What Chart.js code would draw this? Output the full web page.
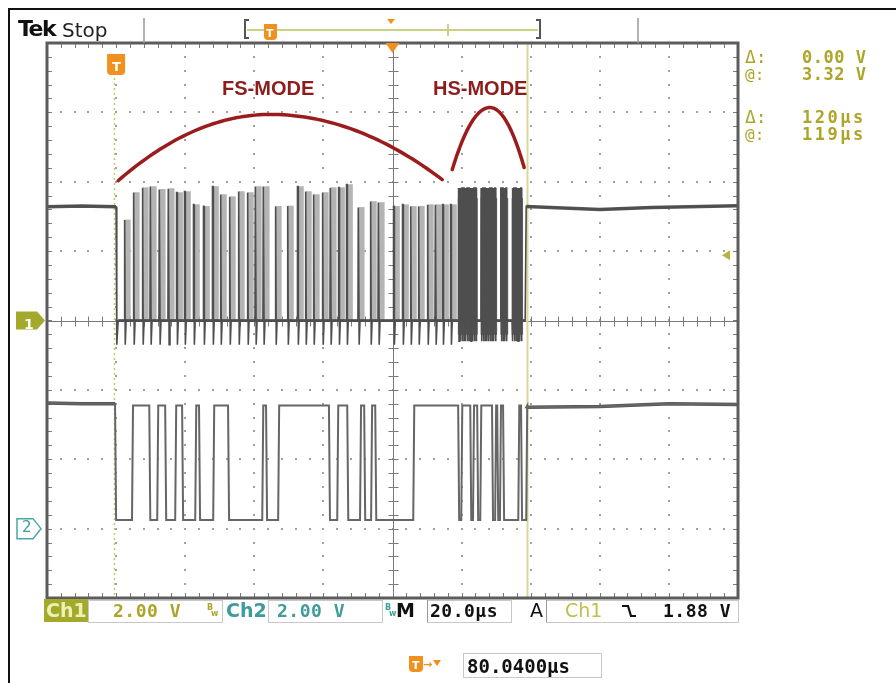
<!DOCTYPE html>
<html><head><meta charset="utf-8">
<script src="https://cdn.jsdelivr.net/npm/chart.js@4"></script>
<style>
html,body{margin:0;padding:0;background:#fff;}
#wrap{position:relative;width:896px;height:683px;overflow:hidden;background:#fff;}
#c{position:absolute;left:0;top:0;}
.t{position:absolute;white-space:nowrap;}
</style></head><body>
<div id="wrap"><canvas id="c" width="896" height="683"></canvas></div>
<script>
// ---- axes (µs relative to trigger, volts at 2 V/div) ----
const timeAxis = {min: -20, max: 180, div: 20};
const voltAxis = {min: -8, max: 8, div: 2};
const ch2Offset = -6;            // Ch2 ground is 3 div below centre
const cursorTimes = [-0.5, 119];  // vertical cursors (µs)
const trigLevel = 1.88;           // V

// ---- Ch1 ----
const ch1IdleBefore = [[-20, 3.28], [-10, 3.30], [0, 3.28]];
const ch1PulseTimes = [2.3,4.9,7.5,9.8,12.4,15.0,17.4,19.7,22.3,25.2,27.8,30.1,32.7,35.3,37.9,40.2,42.5,46.0,49.5,52.4,54.7,57.0,59.6,61.9,64.3,66.6,70.0,73.5,75.8,80.2,82.8,85.1,87.4,90.0,92.3,94.4,96.7];
const ch1PulsePeaks = [2.9,3.69,3.83,3.86,3.78,3.8,3.69,3.72,3.34,3.29,3.86,3.63,3.57,3.72,3.69,3.86,3.86,3.29,3.3,3.86,3.72,3.63,3.69,3.83,3.83,3.92,3.26,3.43,3.40,3.29,3.34,3.29,3.29,3.34,3.34,3.34,3.34];
const ch1HsTimes = [99.0,99.5,100.0,100.5,101.0,101.5,102.0,102.5,103.0,103.5,104.0,105.6,106.1,106.6,107.1,107.6,108.1,108.6,109.1,109.6,111.3,111.8,112.3,112.8,114.6,115.1,115.6,116.1,116.6,117.1];
const ch1HsPeak = 3.82;
const ch1IdleAfter = [[118.7, 3.29], [140, 3.2], [155, 3.26], [180, 3.31]];

// ---- Ch2 ----
const ch2IdleBefore = [[-20, 3.62], [-10, 3.6], [-0.3, 3.6]];
const ch2Edges = [-0.3,4.6,9.6,11.9,14.2,17.1,19.1,22.9,24.0,28.1,32.4,42.3,43.4,46.9,61.6,64.0,66.9,70.6,71.8,73.8,75.0,86.0,99.0,99.9,102.5,103.3,104.5,105.4,108.8,109.7,110.3,111.1,112.0,116.4,117.2,118.7];
const ch2High = 3.55, ch2Low = 0.25;
const ch2IdleAfter = [[118.7, 3.5], [140, 3.52], [160, 3.6], [180, 3.58]];

// ---- annotation arcs: [startT, startV, peakT, peakV, endT, endV] ----
const fsArc = [0.6, 4.03, 44.6, 5.94, 94.4, 4.06];
const hsArc = [97.3, 4.35, 108.2, 6.14, 118.1, 4.41];

// ---- build point lists ----
function buildCh1(){
  const p = [];
  ch1IdleBefore.forEach(a => p.push({x:a[0], y:a[1]}));
  p.push({x:0.2, y:-0.7}, {x:0.6, y:0});
  ch1PulseTimes.forEach((t,i) => {
    const pk = ch1PulsePeaks[i];
    p.push({x:t,y:0},{x:t+0.1,y:pk},{x:t+0.25,y:pk},{x:t+0.35,y:-0.7},{x:t+0.6,y:0});
  });
  ch1HsTimes.forEach(t => {
    p.push({x:t,y:0},{x:t+0.05,y:ch1HsPeak},{x:t+0.2,y:ch1HsPeak},{x:t+0.25,y:-0.6},{x:t+0.35,y:0});
  });
  p.push({x:118.4, y:0});
  ch1IdleAfter.forEach(a => p.push({x:a[0], y:a[1]}));
  return p;
}
function buildCh2(){
  const p = [];
  ch2IdleBefore.forEach(a => p.push({x:a[0], y:a[1]+ch2Offset}));
  let hi = true;
  ch2Edges.forEach(t => {
    const cur = hi ? ch2High : ch2Low;
    hi = !hi;
    const nxt = hi ? ch2High : ch2Low;
    p.push({x:t, y:cur+ch2Offset}, {x:t+0.3, y:nxt+ch2Offset});
  });
  ch2IdleAfter.forEach(a => p.push({x:a[0], y:a[1]+ch2Offset}));
  return p;
}
const toPts = (arr, off) => arr.map(a => ({x:a[0], y:a[1]+(off||0)}));

// ---- graticule / decorations plugin ----
const scope = {
  id: 'scope',
  beforeDatasetsDraw(chart){
    const {ctx, chartArea:a, scales:{x, y}} = chart;
    ctx.save();
    const cT = (timeAxis.min+timeAxis.max)/2, cV = 0;
    const stepT = timeAxis.div/5, stepV = voltAxis.div/5;
    ctx.fillStyle = '#a0a0a0';
    for (let t = timeAxis.min+timeAxis.div; t < timeAxis.max-1e-6; t += timeAxis.div){
      if (Math.abs(t-cT) < 1e-6) continue;
      const px = Math.round(x.getPixelForValue(t));
      for (let v = voltAxis.min+stepV; v < voltAxis.max-1e-6; v += stepV){
        ctx.fillRect(px-1, Math.round(y.getPixelForValue(v))-1, 2, 2);
      }
    }
    for (let v = voltAxis.min+voltAxis.div; v < voltAxis.max-1e-6; v += voltAxis.div){
      if (Math.abs(v-cV) < 1e-6) continue;
      const py = Math.round(y.getPixelForValue(v));
      for (let t = timeAxis.min+stepT; t < timeAxis.max-1e-6; t += stepT){
        ctx.fillRect(Math.round(x.getPixelForValue(t))-1, py-1, 2, 2);
      }
    }
    // centre lines with ticks
    ctx.strokeStyle = '#7a7a7a'; ctx.lineWidth = 1;
    const cx = Math.round(x.getPixelForValue(cT))+0.5, cy = Math.round(y.getPixelForValue(cV))+0.5;
    ctx.beginPath();
    ctx.moveTo(cx, a.top); ctx.lineTo(cx, a.bottom);
    ctx.moveTo(a.left, cy); ctx.lineTo(a.right, cy);
    for (let v = voltAxis.min+stepV; v < voltAxis.max; v += stepV){
      const py = Math.round(y.getPixelForValue(v))+0.5;
      ctx.moveTo(cx-5, py); ctx.lineTo(cx+5, py);
      ctx.moveTo(a.left, py); ctx.lineTo(a.left+5, py);
      ctx.moveTo(a.right, py); ctx.lineTo(a.right-5, py);
    }
    for (let t = timeAxis.min+stepT; t < timeAxis.max; t += stepT){
      const px = Math.round(x.getPixelForValue(t))+0.5;
      ctx.moveTo(px, cy-5); ctx.lineTo(px, cy+5);
      ctx.moveTo(px, a.top); ctx.lineTo(px, a.top+5);
      ctx.moveTo(px, a.bottom); ctx.lineTo(px, a.bottom-5);
    }
    ctx.stroke();
    // cursors
    const c1 = Math.round(x.getPixelForValue(cursorTimes[0]))+0.5;
    ctx.strokeStyle = '#c9c66a'; ctx.lineWidth = 1.5; ctx.setLineDash([2,3]);
    ctx.beginPath(); ctx.moveTo(c1, a.top+35); ctx.lineTo(c1, a.bottom); ctx.stroke();
    ctx.setLineDash([]);
    const c2 = Math.round(x.getPixelForValue(cursorTimes[1]))+0.5;
    ctx.strokeStyle = '#d9d89c'; ctx.lineWidth = 2;
    ctx.beginPath(); ctx.moveTo(c2, a.top); ctx.lineTo(c2, a.bottom); ctx.stroke();
    ctx.restore();
  },
  afterDatasetsDraw(chart){
    const {ctx, chartArea:a, scales:{x, y}} = chart;
    ctx.save();
    // frame
    ctx.strokeStyle = '#5c5c5c'; ctx.lineWidth = 3;
    ctx.strokeRect(a.left, a.top, a.right-a.left, a.bottom-a.top);
    // red annotation arcs
    const arc = (d) => {
      ctx.beginPath();
      for (let i = 0; i <= 40; i++){
        const u = i/40, t = d[0]+(d[2]-d[0])*u, v = d[1]+(d[3]-d[1])*(1-(1-u)*(1-u));
        const px = x.getPixelForValue(t), py = y.getPixelForValue(v);
        i ? ctx.lineTo(px,py) : ctx.moveTo(px,py);
      }
      for (let i = 1; i <= 40; i++){
        const u = i/40, t = d[2]+(d[4]-d[2])*u, v = d[3]-(d[3]-d[5])*u*u;
        ctx.lineTo(x.getPixelForValue(t), y.getPixelForValue(v));
      }
      ctx.stroke();
    };
    ctx.strokeStyle = '#9b1c1c'; ctx.lineWidth = 3.5; ctx.lineCap = 'round';
    arc(fsArc); arc(hsArc);
    ctx.lineCap = 'butt';
    const orange = '#f0901e';
    const tc = x.getPixelForValue((timeAxis.min+timeAxis.max)/2);
    ctx.fillStyle = orange;
    ctx.beginPath(); ctx.moveTo(tc-7, a.top); ctx.lineTo(tc+7, a.top); ctx.lineTo(tc, a.top+10); ctx.fill();
    const tx = x.getPixelForValue(0);
    roundBox(ctx, tx-9, a.top+11, 18, 21, orange);
    const ty = y.getPixelForValue(trigLevel);
    ctx.fillStyle = '#b7b33a';
    ctx.beginPath(); ctx.moveTo(a.right-16, ty); ctx.lineTo(a.right-8, ty-5); ctx.lineTo(a.right-8, ty+5); ctx.fill();
    const g1 = y.getPixelForValue(0), g2 = y.getPixelForValue(ch2Offset);
    ctx.fillStyle = '#a3a92b';
    ctx.beginPath();
    ctx.moveTo(16, g1-9); ctx.lineTo(37, g1-9); ctx.lineTo(45, g1); ctx.lineTo(37, g1+9); ctx.lineTo(16, g1+9); ctx.closePath(); ctx.fill();
    ctx.strokeStyle = '#4aa7a7'; ctx.lineWidth = 1.5; ctx.fillStyle = '#fff';
    ctx.beginPath();
    ctx.moveTo(17, g2-10); ctx.lineTo(33, g2-10); ctx.lineTo(41, g2); ctx.lineTo(33, g2+10); ctx.lineTo(17, g2+10); ctx.closePath(); ctx.fill(); ctx.stroke();
    ctx.strokeStyle = '#9a9a9a'; ctx.lineWidth = 1.5;
    ctx.beginPath(); ctx.moveTo(144, 18); ctx.lineTo(144, a.top); ctx.moveTo(638, 18); ctx.lineTo(638, a.top); ctx.stroke();
    ctx.strokeStyle = '#cdd082'; ctx.lineWidth = 2;
    ctx.beginPath(); ctx.moveTo(247, 30); ctx.lineTo(538, 30); ctx.moveTo(448, 24); ctx.lineTo(448, 36); ctx.stroke();
    ctx.strokeStyle = '#555'; ctx.lineWidth = 2;
    ctx.beginPath();
    ctx.moveTo(249, 20); ctx.lineTo(245, 20); ctx.lineTo(245, 38); ctx.lineTo(249, 38);
    ctx.moveTo(536, 20); ctx.lineTo(540, 20); ctx.lineTo(540, 38); ctx.lineTo(536, 38);
    ctx.stroke();
    roundBox(ctx, 264, 24, 13, 16, orange);
    ctx.fillStyle = orange;
    ctx.beginPath(); ctx.moveTo(387, 19); ctx.lineTo(395, 19); ctx.lineTo(391, 24); ctx.fill();
    ctx.fillStyle = '#111';
    ctx.fillRect(8, 8, 888, 2); ctx.fillRect(8, 8, 2, 675);
    ctx.fillStyle = '#a3a92b'; ctx.fillRect(44, 599, 44, 23);
    ctx.strokeStyle = '#c8c8c8'; ctx.lineWidth = 1;
    [[88,600,134,22],[268,600,114,22],[427,600,84,22],[546,600,192,22],[463,653,138,24]].forEach(r => ctx.strokeRect(r[0]+0.5, r[1]+0.5, r[2], r[3]));
    ctx.strokeStyle = '#999';
    ctx.beginPath(); ctx.moveTo(546.5, 600); ctx.lineTo(546.5, 622); ctx.moveTo(427.5,600); ctx.lineTo(427.5,622); ctx.stroke();
    ctx.strokeStyle = '#111'; ctx.lineWidth = 2.2;
    ctx.beginPath(); ctx.moveTo(622, 606); ctx.lineTo(628, 606); ctx.lineTo(631, 616); ctx.lineTo(636, 616); ctx.stroke();
    roundBox(ctx, 409, 656, 14, 16, orange);
    ctx.fillStyle = orange;
    ctx.beginPath(); ctx.moveTo(433, 660); ctx.lineTo(441, 660); ctx.lineTo(437, 666); ctx.fill();
    ctx.restore();
  }
};
function roundBox(ctx, x, y, w, h, col){
  ctx.fillStyle = col;
  ctx.beginPath();
  ctx.moveTo(x, y); ctx.lineTo(x+w, y); ctx.lineTo(x+w, y+h-4);
  ctx.quadraticCurveTo(x+w, y+h, x+w-4, y+h); ctx.lineTo(x+4, y+h);
  ctx.quadraticCurveTo(x, y+h, x, y+h-4); ctx.closePath(); ctx.fill();
}

new Chart(document.getElementById('c'), {
  type: 'line',
  data: { datasets: [
    {data: buildCh1(), borderColor: '#4e4e4e', borderWidth: 1.6},
    {data: toPts(ch1IdleBefore), borderColor: '#555', borderWidth: 3.5},
    {data: toPts(ch1IdleAfter), borderColor: '#555', borderWidth: 3.5},
    {data: [{x:0.6, y:0}, {x:118.4, y:0}], borderColor: '#444', borderWidth: 2.5},
    {data: buildCh2(), borderColor: '#666', borderWidth: 2},
    {data: toPts(ch2IdleBefore, ch2Offset), borderColor: '#555', borderWidth: 3.5},
    {data: toPts(ch2IdleAfter, ch2Offset), borderColor: '#555', borderWidth: 3.5},
    {type: 'bar', data: ch1PulseTimes.map((t,i) => ({x: t+1.1, y: [0, ch1PulsePeaks[i]]})),
     backgroundColor: '#b4b4b4', barThickness: 5, grouped: false},
    {type: 'bar', data: ch1HsTimes.map(t => ({x: t+0.3, y: [-0.4, ch1HsPeak-0.3]})),
     backgroundColor: '#6a6a6a', barThickness: 2, grouped: false}
  ]},
  options: {
    responsive: false, animation: false, events: [],
    layout: {padding: {left: 47, top: 43, right: 158, bottom: 85}},
    plugins: {legend: {display: false}, tooltip: {enabled: false}},
    elements: {point: {radius: 0}, line: {tension: 0}},
    scales: {
      x: {type: 'linear', min: timeAxis.min, max: timeAxis.max, display: false, offset: false},
      y: {type: 'linear', min: voltAxis.min, max: voltAxis.max, display: false}
    }
  },
  plugins: [scope]
});

// ---- texts ----
const sans = "'DejaVu Sans', sans-serif", mono = "'DejaVu Sans Mono', monospace", lib = "'Liberation Sans', Arial, sans-serif";
const olive = '#ada52a', teal = '#3f9c9c';
const texts = [
  ['Tek', 18, 37, 22, sans, '#111', 'bold', -1.5],
  ['Stop', 62, 37, 20, sans, '#222', 'normal', 0],
  ['FS-MODE', 222, 95, 20, lib, '#8b1d1d', 'bold', 0],
  ['HS-MODE', 433, 95, 20, lib, '#8b1d1d', 'bold', 0],
  ['Δ:', 745, 63, 18, mono, olive, 'normal', 0],
  ['0.00 V', 802, 63, 17, mono, olive, 'bold', 0.5],
  ['@:', 745, 80, 16, mono, olive, 'normal', 0],
  ['3.32 V', 802, 80, 17, mono, olive, 'bold', 0.5],
  ['Δ:', 745, 123, 18, mono, olive, 'normal', 0],
  ['120µs', 802, 123, 17, mono, olive, 'bold', 2.5],
  ['@:', 745, 140, 16, mono, olive, 'normal', 0],
  ['119µs', 802, 140, 17, mono, olive, 'bold', 2.5],
  ['1', 24, 329, 14, sans, '#fff', 'bold', 0],
  ['2', 22, 533, 15, sans, teal, 'normal', 0],
  ['T', 112, 71, 13, sans, '#fff', 'bold', 0],
  ['T', 266, 37, 11, sans, '#fff', 'bold', 0],
  ['Ch1', 46, 617, 19, sans, '#eef0b4', 'bold', 0],
  ['2.00 V', 113, 617, 18, mono, olive, 'bold', 0.5],
  ['B', 207, 611, 8, sans, olive, 'bold', 0],
  ['w', 211, 617, 8, sans, olive, 'bold', 0],
  ['Ch2', 226, 617, 19, sans, teal, 'bold', 0],
  ['2.00 V', 277, 617, 18, mono, teal, 'bold', 0.5],
  ['B', 385, 611, 8, sans, teal, 'bold', 0],
  ['w', 389, 617, 8, sans, teal, 'bold', 0],
  ['M', 396, 617, 19, sans, '#111', 'bold', 0],
  ['20.0µs', 430, 617, 18, mono, '#111', 'bold', 0.5],
  ['A', 530, 617, 19, sans, '#111', 'normal', 0],
  ['Ch1', 565, 617, 19, sans, '#c0bf48', 'normal', 0],
  ['1.88 V', 663, 617, 18, mono, '#111', 'bold', 0.5],
  ['T', 412, 669, 11, sans, '#fff', 'bold', 0],
  ['→', 423, 668, 11, sans, '#f0901e', 'bold', 0],
  ['80.0400µs', 467, 673, 19, mono, '#111', 'bold', 0]
];
const wrap = document.getElementById('wrap');
texts.forEach(d => {
  const e = document.createElement('div');
  e.className = 't';
  e.textContent = d[0];
  e.style.cssText = `left:${d[1]}px;top:${(d[2]-0.846*d[3]).toFixed(1)}px;font-size:${d[3]}px;line-height:${d[3]}px;font-family:${d[4]};color:${d[5]};font-weight:${d[6]};letter-spacing:${d[7]}px;`;
  wrap.appendChild(e);
});
</script>
</body></html>
